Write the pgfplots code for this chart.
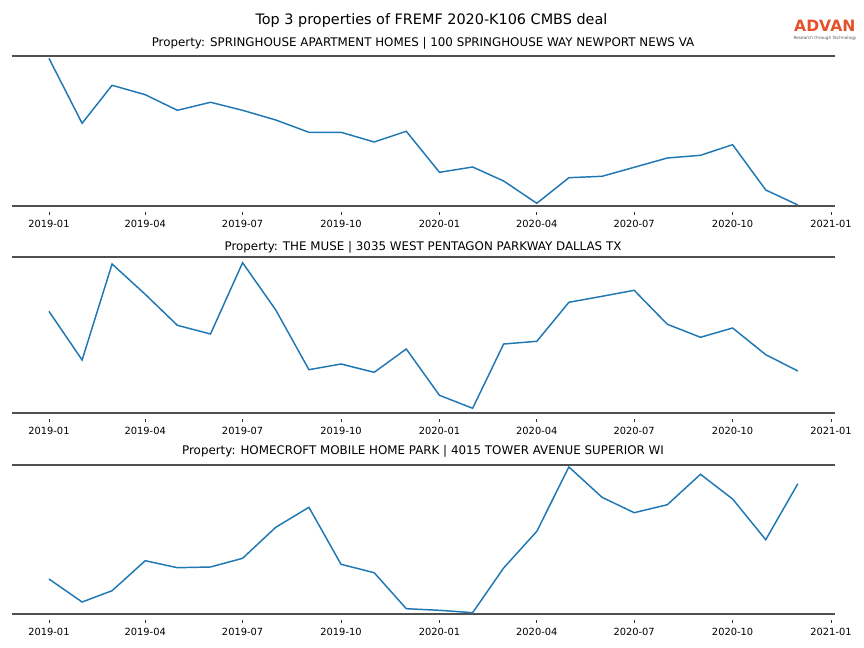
\documentclass[border=0pt]{standalone}
\usepackage{pgfplots}
\pgfplotsset{compat=1.18}
\usepackage{fontspec}
\setmainfont{DejaVu Sans}
\definecolor{mplblue}{HTML}{1F77B4}
\definecolor{spine}{RGB}{80,80,80}
\definecolor{advan}{HTML}{E5512A}
\tikzset{spines/.style={draw=spine, line width=1.4pt}}
\pgfplotsset{
  panel/.style={
    scale only axis,
    width=617.85pt,
    xmin=-35, xmax=735,
    ymin=0,
    axis line style={draw=none},
    ytick=\empty,
    xtick={0,90,181,273,365,456,547,639,731},
    xticklabels={2019-01,2019-04,2019-07,2019-10,2020-01,2020-04,2020-07,2020-10,2021-01},
    xtick pos=bottom,
    tick align=outside,
    major tick length=2.6pt,
    xtick style={black!80, line width=0.5pt, yshift=-4.5pt},
    xticklabel style={font=\fontsize{7.4}{8}\selectfont, anchor=north, yshift=-4.4pt},
    /pgf/number format/assume math mode=true,
    clip=false,
  },
}
\begin{document}
\begin{tikzpicture}
\useasboundingbox (0,0) rectangle (648pt,-486pt);
\node[font=\fontsize{10.8}{12}\selectfont] at (323.6pt,-15.4pt) {Top 3 properties of FREMF 2020-K106 CMBS deal};
\node[font=\fontsize{8.9}{10}\selectfont] at (317.25pt,-32.2pt) {Property: SPRINGHOUSE APARTMENT HOMES | 100 SPRINGHOUSE WAY NEWPORT NEWS VA};
\node[font=\fontsize{8.9}{10}\selectfont] at (317.25pt,-185.2pt) {Property: THE MUSE | 3035 WEST PENTAGON PARKWAY DALLAS TX};
\node[font=\fontsize{8.9}{10}\selectfont] at (317.25pt,-338.2pt) {Property: HOMECROFT MOBILE HOME PARK | 4015 TOWER AVENUE SUPERIOR WI};
\node[text=advan, font=\bfseries\fontsize{11.7}{12}\selectfont, inner sep=0pt, anchor=base] at (618.6pt,-23.4pt) {ADVAN};
\node[text=black!65, font=\fontsize{3.2}{3.5}\selectfont, inner sep=0pt] at (618.75pt,-28.8pt) {Research through Technology};

\begin{axis}[panel, at={(8.625pt,-154.275pt)}, anchor=south west, height=112.5pt, ymax=150]
\draw[spines] (rel axis cs:0,0) -- (rel axis cs:1,0);
\draw[spines] (rel axis cs:0,1) -- (rel axis cs:1,1);
\addplot[mplblue, line width=1.1pt] coordinates {
(0,147.4) (31,82.4) (59,120.4) (90,111.0) (120,95.4) (151,103.4) (181,95.4) (212,85.7) (243,73.4) (273,73.4) (304,63.7) (334,74.4)
(365,33.4) (396,38.7) (425,24.7) (456,2.4) (486,28.0) (517,29.4) (547,38.4) (578,47.7) (609,50.4) (639,61.0) (670,15.7) (700,0.7)};
\end{axis}

\begin{axis}[panel, at={(8.625pt,-309.525pt)}, anchor=south west, height=117pt, ymax=156]
\draw[spines] (rel axis cs:0,0) -- (rel axis cs:1,0);
\draw[spines] (rel axis cs:0,1) -- (rel axis cs:1,1);
\addplot[mplblue, line width=1.1pt] coordinates {
(0,101.4) (31,52.7) (59,148.7) (90,118.4) (120,87.4) (151,78.7) (181,150.0) (212,102.7) (243,43.0) (273,48.7) (304,40.4) (334,63.7)
(365,17.4) (396,4.4) (425,68.7) (456,71.4) (486,110.4) (517,116.4) (547,122.4) (578,88.4) (609,75.4) (639,84.7) (670,58.0) (700,41.7)};
\end{axis}

\begin{axis}[panel, at={(8.625pt,-460.275pt)}, anchor=south west, height=111.75pt, ymax=149]
\draw[spines] (rel axis cs:0,0) -- (rel axis cs:1,0);
\draw[spines] (rel axis cs:0,1) -- (rel axis cs:1,1);
\addplot[mplblue, line width=1.1pt] coordinates {
(0,34.7) (31,11.7) (59,23.0) (90,53.0) (120,46.0) (151,46.7) (181,55.4) (212,86.4) (243,106.4) (273,49.4) (304,41.0) (334,5.0)
(365,3.4) (396,1.0) (425,45.7) (456,82.4) (486,146.7) (517,116.4) (547,101.0) (578,109.0) (609,139.4) (639,114.7) (670,74.0) (700,130.0)};
\end{axis}
\end{tikzpicture}
\end{document}
